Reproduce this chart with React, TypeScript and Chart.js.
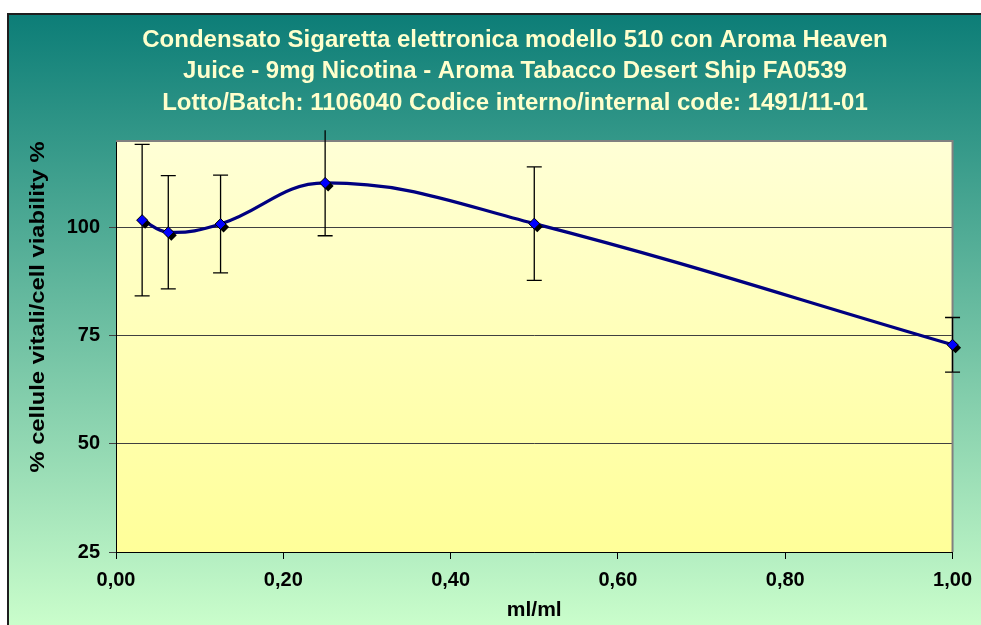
import React, { useEffect, useRef } from 'react';
import { Chart, registerables } from 'chart.js';

Chart.register(...registerables);

const doses = [0.03125, 0.0625, 0.125, 0.25, 0.5, 1];
const viability = [101.7, 98.9, 100.8, 110.3, 100.9, 72.9];
const errors = [17.5, 13.1, 11.3, 12.2, 13.1, 6.3];
const yTicks = [25, 50, 75, 100];
const titleLines = [
  'Condensato Sigaretta elettronica modello 510 con Aroma Heaven',
  'Juice - 9mg Nicotina - Aroma Tabacco Desert Ship FA0539',
  'Lotto/Batch: 1106040 Codice interno/internal code: 1491/11-01',
];
const xAxisTitle = 'ml/ml';
const yAxisTitle = '% cellule vitali/cell viability %';

const W = 981;
const H = 625;
const FONT = "'Liberation Sans', Arial, sans-serif";

function diamond(ctx: CanvasRenderingContext2D, x: number, y: number, r: number) {
  ctx.beginPath();
  ctx.moveTo(x, y - r);
  ctx.lineTo(x + r, y);
  ctx.lineTo(x, y + r);
  ctx.lineTo(x - r, y);
  ctx.closePath();
}

const decorPlugin = {
  id: 'decor',
  beforeDraw(chart: any) {
    const { ctx, chartArea: a } = chart;
    ctx.save();
    ctx.fillStyle = '#ffffff';
    ctx.fillRect(0, 0, W, H);
    const g = ctx.createLinearGradient(0, 13, 0, 632);
    g.addColorStop(0, '#0C7D77');
    g.addColorStop(1, '#CCFFCC');
    ctx.fillStyle = g;
    ctx.fillRect(7, 13, W, H);
    ctx.strokeStyle = '#1e1e1e';
    ctx.lineWidth = 2;
    ctx.beginPath();
    ctx.moveTo(8, H);
    ctx.lineTo(8, 14);
    ctx.lineTo(W, 14);
    ctx.stroke();
    const pg = ctx.createLinearGradient(0, a.top, 0, a.bottom);
    pg.addColorStop(0, '#FFFFD6');
    pg.addColorStop(1, '#FFFF99');
    ctx.fillStyle = pg;
    ctx.fillRect(a.left, a.top, a.right - a.left, a.bottom - a.top);
    ctx.restore();
  },
  beforeDatasetsDraw(chart: any) {
    const { ctx, chartArea: a } = chart;
    const xs = chart.scales.x;
    const ys = chart.scales.y;
    ctx.save();
    ctx.strokeStyle = '#808080';
    ctx.lineWidth = 2;
    ctx.beginPath();
    ctx.moveTo(a.left, a.top);
    ctx.lineTo(a.right, a.top);
    ctx.lineTo(a.right, a.bottom);
    ctx.stroke();
    ctx.strokeStyle = '#000000';
    ctx.lineWidth = 1.3;
    doses.forEach((d, i) => {
      const x = xs.getPixelForValue(d);
      const hi = viability[i] + errors[i];
      const lo = viability[i] - errors[i];
      const yt = ys.getPixelForValue(hi);
      const yb = ys.getPixelForValue(lo);
      ctx.beginPath();
      ctx.moveTo(x, yt);
      ctx.lineTo(x, yb);
      if (hi <= ys.max) {
        ctx.moveTo(x - 7.5, yt);
        ctx.lineTo(x + 7.5, yt);
      }
      ctx.moveTo(x - 7.5, yb);
      ctx.lineTo(x + 7.5, yb);
      ctx.stroke();
    });
    ctx.restore();
  },
  beforeDatasetDraw(chart: any, args: any) {
    if (args.index !== 0) return;
    const { ctx } = chart;
    const meta = chart.getDatasetMeta(0);
    ctx.save();
    ctx.fillStyle = '#000000';
    meta.data.forEach((pt: any) => {
      diamond(ctx, pt.x + 3, pt.y + 3, 5.5);
      ctx.fill();
    });
    ctx.restore();
  },
  afterDraw(chart: any) {
    const { ctx } = chart;
    ctx.save();
    ctx.fillStyle = '#FFFFCC';
    ctx.font = `bold 24px ${FONT}`;
    ctx.textAlign = 'center';
    ctx.textBaseline = 'middle';
    const ys = [40, 71.5, 103];
    titleLines.forEach((t, i) => ctx.fillText(t, 515, ys[i]));
    ctx.restore();

    ctx.save();
    ctx.fillStyle = '#000000';
    ctx.font = `bold 21px ${FONT}`;
    ctx.textAlign = 'center';
    ctx.textBaseline = 'middle';
    ctx.translate(38, 307);
    ctx.rotate(-Math.PI / 2);
    ctx.scale(1.13, 1);
    ctx.fillText(yAxisTitle, 0, 0);
    ctx.restore();
  },
};

export default function App() {
  const ref = useRef<HTMLCanvasElement | null>(null);
  useEffect(() => {
    if (!ref.current) return;
    const chart = new Chart(ref.current, {
      type: 'line',
      data: {
        datasets: [
          {
            label: 'points',
            data: doses.map((d, i) => ({ x: d, y: viability[i] })),
            showLine: false,
            pointStyle: 'rectRot',
            pointRadius: 5.5,
            pointHoverRadius: 5.5,
            pointBackgroundColor: '#0000FF',
            pointBorderColor: '#000000',
            pointBorderWidth: 1,
            clip: false as any,
          },
          {
            label: 'curve',
            data: doses.map((d, i) => ({ x: d, y: viability[i] })),
            borderColor: '#000080',
            borderWidth: 3.2,
            tension: 0.4,
            pointRadius: 0,
            fill: false,
            clip: false as any,
          },
        ],
      },
      options: {
        animation: false,
        responsive: false,
        devicePixelRatio: 1,
        events: [],
        layout: { padding: { left: 7, top: 141, right: 28, bottom: 0 } },
        plugins: {
          legend: { display: false },
          title: { display: false },
          tooltip: { enabled: false },
        },
        scales: {
          x: {
            type: 'linear',
            min: 0,
            max: 1,
            afterFit: (s: any) => {
              s.height = 73;
            },
            ticks: {
              stepSize: 0.2,
              color: '#000000',
              padding: 9,
              font: { family: FONT, size: 20, weight: 'bold' },
              maxRotation: 0,
              callback: (v: any) => Number(v).toFixed(2).replace('.', ','),
            },
            grid: {
              drawOnChartArea: false,
              drawTicks: true,
              tickLength: 7,
              color: '#000000',
            },
            border: { color: '#000000', width: 1 },
            title: {
              display: true,
              text: xAxisTitle,
              color: '#000000',
              font: { family: FONT, size: 21, weight: 'bold' },
              padding: { top: 0, bottom: 2 },
            },
          },
          y: {
            type: 'linear',
            min: 25,
            max: 120,
            afterFit: (s: any) => {
              s.width = 109;
            },
            afterBuildTicks: (s: any) => {
              s.ticks = yTicks.map((v) => ({ value: v }));
            },
            ticks: {
              color: '#000000',
              padding: 9,
              font: { family: FONT, size: 20, weight: 'bold' },
            },
            grid: {
              color: '#404040',
              lineWidth: 1,
              tickLength: 7,
            },
            border: { color: '#000000', width: 1 },
          },
        },
      },
      plugins: [decorPlugin],
    });
    return () => chart.destroy();
  }, []);
  return (
    <div style={{ position: 'fixed', left: 0, top: 0, width: W, height: H, overflow: 'hidden' }}>
      <canvas ref={ref} width={W} height={H} style={{ display: 'block', width: W, height: H }} />
    </div>
  );
}
